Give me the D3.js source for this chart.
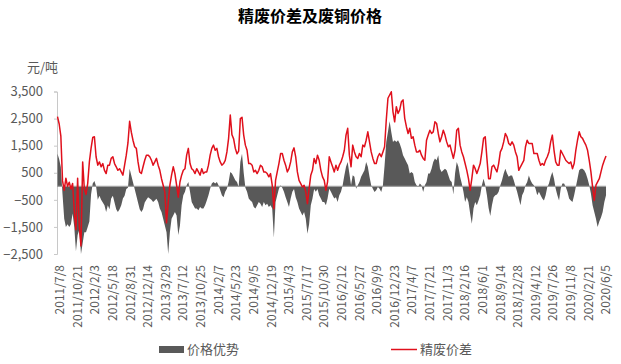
<!DOCTYPE html>
<html lang='zh'>

<head>
    <meta charset='UTF-8'>
    <title>精废价差及废铜价格</title>
    <script src="https://cdn.jsdelivr.net/npm/d3@7"></script>
    <style>
        body { margin: 0; background: #fff; }
        text { font-family: "Noto Sans CJK SC", "Noto Sans", sans-serif; }
    </style>
</head>

<body>
    <svg class="chart"></svg>
</body>
<script>
    /**
     * 数据：起始日期、间隔(天)、两组序列
     */
    const startDate = "2011-07-08";
    const stepDays = 10;

    // 精废价差 (元/吨)
    const spread = [
        2570, 2300, 1850, 200, -150, 300, 0, 150, -100, 100, -900, -1600, 300, -1500, -2200, 900, -100, -300, 100, 900,
        1400, 1800, 1830, 1090, 780, 900, 720, 840, 590, 470, 780, 780, 1030, 1090, 840, 720, 590, 650, 530, 410,
        780, 1150, 1600, 2400, 2000, 1700, 1460, 1400, 900, 530, 470, 720, 960, 1150,
        1150, 1090, 960, 780, 900, 1030, 780, 590, 280, 40, -210, -1350, -600, 40, 410, 720, 470, 40, -400, 160,
        410, 590, 650, 1150, 1400, 840, 650, 590, 470, 650, 530, 410, 650, 470, 530, 530, 780, 1150, 1400, 1520,
        1330, 1400, 1090, 900, 780, 840, 960, 1270, 1770, 2630, 1900, 1750, 1400, 1200, 1300, 2500,
        2550, 1890, 1520, 1330, 840, 840, 780, 530, 590, 470, 590, 780, 720, 530, 530, 470, 350, 470, 40, -830,
        220, 530, 840, 1210, 1210, 960, 780, 530, 650, 900, 1270, 1420, 1090, 530, 220, 100, -25, 40, -210, -640,
        -90, 410, 590, 1030, 840, 1150, 960, 590, 350, 220, -150, 160, 1090, 900, 720, 530,
        780, 590, 780, 900, 1090, 1330, 1890, 2140, 1150, 720, 1520, 1270, 1090, 1030, 1210, 1090, 1520, 1460, 1700, 2010,
        1640, 1270, 1030, 840, 840, 1090, 1210, 1090, 1270, 1460, 2450, 3250, 3370, 3490, 2750, 2380, 2940, 2690, 2820, 3120,
        3190, 2510, 2200, 1950, 2140, 1770, 1830, 1520, 1270, 1270, 1330, 1150, 1030, 960, 1700,
        1890, 2070, 1950, 2010, 2380, 2320, 1950, 1640, 1830, 2070, 1890, 1640, 1460, 1520, 1270, 1030, 1330, 2070, 2140, 1520,
        1270, 1090, 840, 590, 280, -150, 280, 780, 650, 470, 650, 840, 1270, 1770, 1830, 1030, 280, 280, 720, 780,
        650, 530, 840, 1270, 1400, 1640, 1950, 1830, 1580, 1520, 1640, 1520, 1270, 1090, 590, 720,
        840, 960, 1460, 1700, 1580, 1580, 1580, 1210, 1210, 1210, 960, 780, 840, 780, 960, 1090, 1270, 1640, 1890, 1330,
        900, 780, 780, 1330, 1210, 1090, 960, 900, 840, 900, 650, 840, 1330, 1700, 2010, 1830, 1770, 1640, 1520, 1330,
        960, 530, -25, -520, 40, 160, 280, 530, 780, 960, 1120
    ];

    // 价格优势 (元/吨)
    const advantage = [
        1200, 1000, 700, -300, -1200, -1500, -1400, -1500, -1400, -1000, -1500, -2400, -1800, -1600, -2500, -2100, -1700, -1700, -1500, -1300,
        -300, 100, 200, 0, -500, -350, -500, -600, -700, -950, -700, -850, -450, -350, -600, -850, -950, -850, -700, -450,
        -350, -100, -50, 650, 400, 150, -100, -350, -600, -850, -950, -850, -600, -500,
        -400, -450, -500, -580, -520, -460, -580, -820, -950, -1200, -1450, -1700, -2500, -1700, -1200, -1080, -950, -1080, -1800, -1450,
        -700, -330, -200, 40, 160, -200, -580, -700, -820, -820, -880, -760, -820, -820, -700, -520, -330, -90, 100, 160,
        100, 160, 40, -150, -330, -400, -200, -90, 160, 530, 470, 350, 220, 160, -25, 900,
        1200, 500, -50, -200, -450, -520, -580, -760, -820, -700, -580, -640, -760, -580, -700, -640, -760, -700, -820, -1900,
        -580, -330, -90, 40, -50, -200, -400, -580, -760, -450, -200, -100, -400, -580, -820, -950, -1080, -950, -1200, -1750,
        -1400, -700, -450, -100, -200, -100, -330, -450, -580, -580, -700, -450, -90, -200, -330, -450,
        -400, -580, -330, -200, 40, 400, 720, 900, 470, 40, 410, 350, -90, 40, 160, 350, 470, 590, 900, 720,
        350, 40, -90, -210, -150, -25, -90, -210, 40, 780, 1640, 2010, 2400, 2000, 1640, 1700, 1640, 1700, 1580, 1400,
        1150, 1030, 900, 780, 470, 530, 470, 160, 40, -25, 100, 40, -210, 40, 160,
        470, 470, 650, 900, 1030, 960, 1150, 650, 530, 590, 650, 590, 410, 220, 160, -300, 470, 900, 720, 350,
        100, -200, -580, -400, -580, -1000, -1380, -820, -580, -700, -520, -330, 40, 280, 40, -330, -800, -1100, -700, -400,
        -330, -300, -200, 40, 220, 470, 650, 470, 350, 400, 400, 220, 0, -200, -450, -700,
        -330, -200, 40, 160, 400, 220, 100, 40, -90, -330, -200, -330, -450, -520, -330, -25, 100, 350, 530, 280,
        -90, -330, -520, -90, 100, 100, -25, -200, -450, -520, -580, -330, -25, 280, 590, 650, 650, 590, 470, 280,
        40, -270, -700, -950, -1200, -1500, -1300, -1150, -950, -580, -330
    ];

    // 横轴标签
    const xTickLabels = [
        "2011/7/8", "2011/10/21", "2012/2/3", "2012/5/18", "2012/8/31", "2012/12/14", "2013/3/29", "2013/7/12",
        "2013/10/25", "2014/2/7", "2014/5/23", "2014/9/5", "2014/12/19", "2015/4/3", "2015/7/17", "2015/10/30",
        "2016/2/12", "2016/5/27", "2016/9/9", "2016/12/23", "2017/4/7", "2017/7/21", "2017/11/3", "2018/2/16",
        "2018/6/1", "2018/9/14", "2018/12/28", "2019/4/12", "2019/7/26", "2019/11/8", "2020/2/21", "2020/6/5"
    ];
    const yTicks = [-2500, -1500, -500, 500, 1500, 2500, 3500];

    /**
     * 基本配置
     */
    const svgWidth = 621;
    const svgHeight = 364;

    const svg = d3.select(".chart")
        .attr("width", svgWidth)
        .attr("height", svgHeight);

    const parseDate = d3.timeParse("%Y-%m-%d");
    const parseLabel = d3.timeParse("%Y/%m/%d");
    const t0 = parseDate(startDate);
    const dates = spread.map((d, i) => d3.timeDay.offset(t0, i * stepDays));

    const x = d3.scaleTime()
        .domain([parseLabel(xTickLabels[0]), parseLabel(xTickLabels[xTickLabels.length - 1])])
        .range([57.5, 603.5]);

    const y = d3.scaleLinear()
        .domain([-2500, 3500])
        .range([254, 91.5]);

    // 标题
    svg.append("text")
        .attr("x", 310).attr("y", 22)
        .attr("text-anchor", "middle")
        .attr("font-size", 16).attr("font-weight", "bold")
        .attr("fill", "#000")
        .text("精废价差及废铜价格");

    svg.append("text")
        .attr("x", 27).attr("y", 72)
        .attr("font-size", 13).attr("fill", "#595959")
        .text("元/吨");

    // 纵轴
    const yAxis = d3.axisLeft(y)
        .tickValues(yTicks)
        .tickFormat(d3.format(","))
        .tickSize(3)
        .tickPadding(11);

    const yg = svg.append("g")
        .attr("transform", "translate(57,0)")
        .call(yAxis);
    yg.select(".domain").attr("stroke", "#c8c8c8");
    yg.selectAll(".tick line").attr("stroke", "#c8c8c8");
    yg.selectAll(".tick text")
        .attr("font-size", 13)
        .attr("fill", "#595959")
        .attr("font-family", "'Noto Sans', sans-serif");

    // 价格优势 面积
    const area = d3.area()
        .x((d, i) => x(dates[i]))
        .y0(y(0))
        .y1(d => y(d));

    svg.append("path")
        .datum(advantage)
        .attr("d", area)
        .attr("fill", "#595959");

    // 零线
    svg.append("line")
        .attr("x1", 57).attr("x2", x(dates[dates.length - 1]))
        .attr("y1", y(0)).attr("y2", y(0))
        .attr("stroke", "#a0a0a0")
        .attr("stroke-width", 1.2);

    // 精废价差 折线
    const line = d3.line()
        .x((d, i) => x(dates[i]))
        .y(d => y(d));

    svg.append("path")
        .datum(spread)
        .attr("d", line)
        .attr("fill", "none")
        .attr("stroke", "#e0101c")
        .attr("stroke-width", 1.5)
        .attr("stroke-linejoin", "round");

    // 横轴标签
    svg.append("g")
        .selectAll("text")
        .data(xTickLabels)
        .join("text")
        .attr("transform", d => `translate(${x(parseLabel(d)) + 2.5},265) rotate(-90)`)
        .attr("text-anchor", "end")
        .attr("dy", "0.35em")
        .attr("font-size", 12)
        .attr("fill", "#595959")
        .attr("font-family", "'Noto Sans', sans-serif")
        .text(d => d);

    // 图例
    const legend = svg.append("g");
    legend.append("rect")
        .attr("x", 159).attr("y", 346).attr("width", 25).attr("height", 7)
        .attr("fill", "#595959");
    legend.append("text")
        .attr("x", 187).attr("y", 354)
        .attr("font-size", 13).attr("fill", "#595959")
        .text("价格优势");
    legend.append("line")
        .attr("x1", 391).attr("x2", 417).attr("y1", 349.5).attr("y2", 349.5)
        .attr("stroke", "#e0101c").attr("stroke-width", 1.5);
    legend.append("text")
        .attr("x", 420).attr("y", 354)
        .attr("font-size", 13).attr("fill", "#595959")
        .text("精废价差");
</script>

</html>
